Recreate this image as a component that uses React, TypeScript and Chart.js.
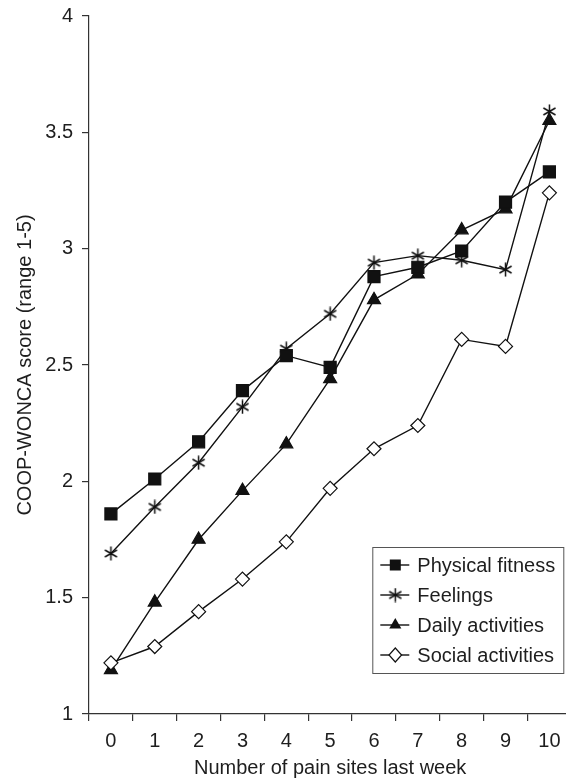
import React, { useEffect, useRef } from "react";
import { Chart, registerables } from "chart.js";

Chart.register(...registerables);

const painSites = ["0", "1", "2", "3", "4", "5", "6", "7", "8", "9", "10"];
const physicalFitness = [1.86, 2.01, 2.17, 2.39, 2.54, 2.49, 2.88, 2.92, 2.99, 3.2, 3.33];
const feelings = [1.69, 1.89, 2.08, 2.32, 2.57, 2.72, 2.94, 2.97, 2.95, 2.91, 3.59];
const dailyActivities = [1.19, 1.48, 1.75, 1.96, 2.16, 2.44, 2.78, 2.89, 3.08, 3.17, 3.55];
const socialActivities = [1.22, 1.29, 1.44, 1.58, 1.74, 1.97, 2.14, 2.24, 2.61, 2.58, 3.24];
const yTicks = [1, 1.5, 2, 2.5, 3, 3.5, 4];
const seriesLabels = ["Physical fitness", "Feelings", "Daily activities", "Social activities"];

const INK = "#111";
const FONT = "'Liberation Sans', Arial, Helvetica, sans-serif";

function makeAsterisk(): HTMLCanvasElement {
  const c = document.createElement("canvas");
  c.width = 15;
  c.height = 15;
  const g = c.getContext("2d")!;
  g.strokeStyle = INK;
  g.lineWidth = 1.5;
  const cx = 7.5, cy = 7.5, r = 7;
  g.beginPath();
  for (const a of [90, 30, 150]) {
    const rad = (a * Math.PI) / 180;
    g.moveTo(cx + r * Math.cos(rad), cy - r * Math.sin(rad));
    g.lineTo(cx - r * Math.cos(rad), cy + r * Math.sin(rad));
  }
  g.stroke();
  return c;
}

function drawMarker(ctx: CanvasRenderingContext2D, kind: string, x: number, y: number, star: HTMLCanvasElement) {
  ctx.save();
  ctx.fillStyle = INK;
  ctx.strokeStyle = INK;
  ctx.lineWidth = 1.2;
  if (kind === "rect") {
    ctx.fillRect(x - 5.5, y - 5.5, 11, 11);
  } else if (kind === "star") {
    ctx.drawImage(star, x - star.width / 2, y - star.height / 2);
  } else if (kind === "triangle") {
    const r = 7;
    ctx.beginPath();
    ctx.moveTo(x, y - r);
    ctx.lineTo(x + r * Math.sin((2 * Math.PI) / 3), y - r * Math.cos((2 * Math.PI) / 3));
    ctx.lineTo(x + r * Math.sin((4 * Math.PI) / 3), y - r * Math.cos((4 * Math.PI) / 3));
    ctx.closePath();
    ctx.fill();
  } else {
    const r = 7;
    ctx.beginPath();
    ctx.moveTo(x, y - r);
    ctx.lineTo(x + r * 0.9, y);
    ctx.lineTo(x, y + r);
    ctx.lineTo(x - r * 0.9, y);
    ctx.closePath();
    ctx.fillStyle = "#fff";
    ctx.fill();
    ctx.stroke();
  }
  ctx.restore();
}

export default function App() {
  const ref = useRef<HTMLCanvasElement | null>(null);

  useEffect(() => {
    if (!ref.current) return;
    const star = makeAsterisk();
    const kinds = ["rect", "star", "triangle", "rectRot"];

    const legendPlugin = {
      id: "boxLegend",
      afterDraw(chart: any) {
        const { ctx, chartArea } = chart;
        const w = 191, h = 126;
        const right = chartArea.right - 8;
        const bottom = chartArea.bottom - 41;
        const left = right - w, top = bottom - h;
        ctx.save();
        ctx.fillStyle = "#fff";
        ctx.fillRect(left, top, w, h);
        ctx.strokeStyle = "#555";
        ctx.lineWidth = 1;
        ctx.strokeRect(left + 0.5, top + 0.5, w, h);
        ctx.font = `20px ${FONT}`;
        ctx.textBaseline = "middle";
        ctx.textAlign = "left";
        seriesLabels.forEach((label, i) => {
          const y = top + 18 + i * 30;
          ctx.strokeStyle = INK;
          ctx.lineWidth = 1.4;
          ctx.beginPath();
          ctx.moveTo(left + 8, y);
          ctx.lineTo(left + 37, y);
          ctx.stroke();
          drawMarker(ctx, kinds[i], left + 23, y, star);
          ctx.fillStyle = "#1e1e1e";
          ctx.fillText(label, left + 45, y + 1);
        });
        ctx.restore();
      },
    };

    const common = {
      borderColor: INK,
      borderWidth: 1.4,
      pointBorderColor: INK,
      pointBorderWidth: 1.2,
      tension: 0,
      fill: false,
    };

    const chart = new Chart(ref.current, {
      type: "line",
      data: {
        labels: painSites,
        datasets: [
          { ...common, label: seriesLabels[0], data: physicalFitness, pointStyle: "rect", pointRadius: 8.5, pointBackgroundColor: INK, order: 1 },
          { ...common, label: seriesLabels[1], data: feelings, pointStyle: star, pointRadius: 7, order: 2 },
          { ...common, label: seriesLabels[2], data: dailyActivities, pointStyle: "triangle", pointRadius: 7.5, pointBackgroundColor: INK, order: 3 },
          { ...common, label: seriesLabels[3], data: socialActivities, pointStyle: "rectRot", pointRadius: 7, pointBackgroundColor: "#fff", order: 0 },
        ],
      },
      options: {
        responsive: false,
        animation: false,
        layout: { padding: { top: 0, left: 0, right: 0, bottom: 0 } },
        plugins: {
          legend: { display: false },
          tooltip: { enabled: false },
        },
        scales: {
          x: {
            type: "category",
            offset: true,
            afterFit: (s: any) => {
              s.height = 68;
            },
            border: { display: true, color: "#333", width: 1.2 },
            grid: { offset: true, drawOnChartArea: false, drawTicks: true, tickLength: 7, color: "#333", lineWidth: 1.2 },
            ticks: { color: "#1e1e1e", font: { size: 20, family: FONT }, padding: 8, maxRotation: 0 },
            title: {
              display: true,
              text: "Number of pain sites last week",
              color: "#1e1e1e",
              font: { size: 20, family: FONT },
              padding: { top: 0, bottom: 2 },
            },
          },
          y: {
            type: "linear",
            min: 1,
            max: 4,
            afterBuildTicks: (s: any) => {
              s.ticks = yTicks.map((v) => ({ value: v }));
            },
            afterFit: (s: any) => {
              s.width = 89;
              s.paddingTop = 16;
              s.paddingBottom = 0;
            },
            border: { display: true, color: "#333", width: 1.2 },
            grid: { drawOnChartArea: false, drawTicks: true, tickLength: 7, color: "#333", lineWidth: 1.2 },
            ticks: {
              color: "#1e1e1e",
              font: { size: 20, family: FONT },
              padding: 9,
              callback: (v: any) => String(v),
            },
            title: {
              display: true,
              text: "COOP-WONCA score (range 1-5)",
              color: "#1e1e1e",
              font: { size: 20, family: FONT },
              padding: { top: 13, bottom: 0 },
            },
          },
        },
      },
      plugins: [legendPlugin],
    });
    return () => chart.destroy();
  }, []);

  return (
    <div style={{ position: "fixed", left: 0, top: 0, width: 566, height: 782, overflow: "hidden", background: "#fff" }}>
      <canvas ref={ref} width={581} height={782} style={{ display: "block" }} />
    </div>
  );
}
